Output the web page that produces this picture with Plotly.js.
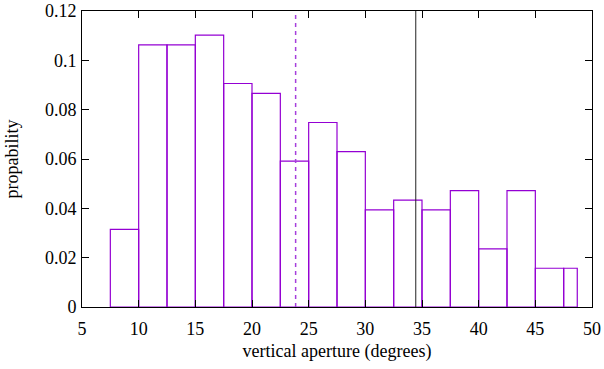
<!DOCTYPE html>
<html>
<head>
<meta charset="utf-8">
<script src="https://cdn.plot.ly/plotly-3.0.1.min.js"></script>
<style>html,body{margin:0;padding:0;background:#fff;}#chart{width:604px;height:369px;}</style>
</head>
<body>
<div id="chart"></div>
<script>
// Histogram bins (left edges, widths) and probabilities
const binStart = [7.5, 10, 12.5, 15, 17.5, 20, 22.5, 25, 27.5, 30, 32.5, 35, 37.5, 40, 42.5, 45, 47.5];
const binWidth = [2.5, 2.5, 2.5, 2.5, 2.5, 2.5, 2.5, 2.5, 2.5, 2.5, 2.5, 2.5, 2.5, 2.5, 2.5, 2.5, 1.2];
const probability = [0.0315, 0.1063, 0.1063, 0.1102, 0.0906, 0.0866, 0.0591, 0.0748, 0.0630, 0.0394, 0.0433, 0.0394, 0.0472, 0.0236, 0.0472, 0.0157, 0.0157];
// Vertical reference lines
const meanX = [23.85, 23.85];
const refX = [34.45, 34.45];
const lineY = [0, 0.12];
const xTicks = [5, 10, 15, 20, 25, 30, 35, 40, 45, 50];
const yTicks = [0, 0.02, 0.04, 0.06, 0.08, 0.1, 0.12];
const yTickText = ['0', '0.02', '0.04', '0.06', '0.08', '0.1', '0.12'];

const purple = '#9400D3';
const traces = [
  {
    type: 'bar', x: binStart, y: probability, width: binWidth, offset: 0,
    marker: {color: 'rgba(255,255,255,0)', line: {color: purple, width: 1.2}},
    hoverinfo: 'skip', showlegend: false
  },
  {
    type: 'scatter', mode: 'lines', x: meanX, y: lineY,
    line: {color: '#a63fdc', width: 1.5, dash: '4px,4px'}, showlegend: false, hoverinfo: 'skip'
  },
  {
    type: 'scatter', mode: 'lines', x: refX, y: lineY,
    line: {color: '#222', width: 1}, showlegend: false, hoverinfo: 'skip'
  }
];

const fontFam = 'Liberation Serif, Times New Roman, serif';
const axisCommon = {
  showline: true, linecolor: '#000', linewidth: 1, mirror: 'ticks',
  ticks: 'inside', ticklen: 7, tickcolor: '#000', tickwidth: 1,
  showgrid: false, zeroline: false,
  tickfont: {family: fontFam, size: 18, color: '#000'}
};

const layout = {
  width: 604, height: 369,
  margin: {l: 82, r: 12, t: 11, b: 62},
  paper_bgcolor: '#fff', plot_bgcolor: '#fff',
  font: {family: fontFam, size: 18, color: '#000'},
  showlegend: false,
  bargap: 0,
  xaxis: Object.assign({}, axisCommon, {
    range: [5, 50], tickvals: xTicks, ticktext: xTicks.map(String),
    ticklabelstandoff: 5,
    title: {text: 'vertical aperture (degrees)', font: {size: 18}, standoff: 6}
  }),
  yaxis: Object.assign({}, axisCommon, {
    range: [0, 0.12], tickvals: yTicks, ticktext: yTickText,
    ticklabelstandoff: 1,
    title: {text: 'propability', font: {size: 18}, standoff: 21}
  })
};

Plotly.newPlot('chart', traces, layout, {staticPlot: true, displayModeBar: false});
</script>
</body>
</html>
